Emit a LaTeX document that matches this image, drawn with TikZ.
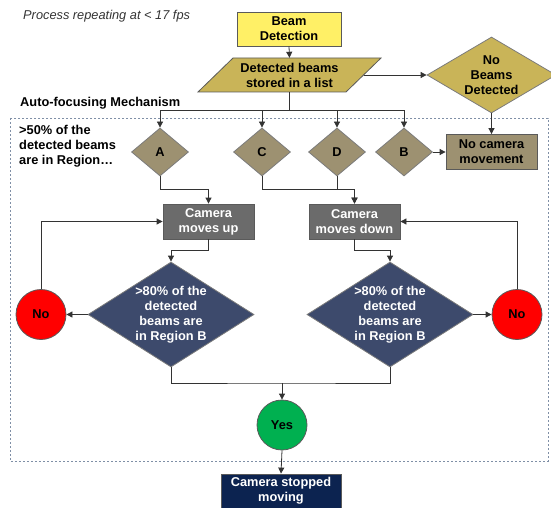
\documentclass[tikz,border=0pt]{standalone}
\usepackage{fontspec}
\setmainfont{Liberation Sans}
\usetikzlibrary{shapes.geometric,arrows.meta,calc}
\definecolor{ylw}{HTML}{FFF066}
\definecolor{khaki}{HTML}{C9B458}
\definecolor{taupe}{HTML}{9D9171}
\definecolor{grayfill}{HTML}{6B6B6B}
\definecolor{slate}{HTML}{3D4A6C}
\definecolor{redc}{HTML}{FF0000}
\definecolor{greenc}{HTML}{00B050}
\definecolor{navy}{HTML}{0C2350}
\definecolor{edge}{HTML}{5A5A5A}
\definecolor{dashc}{HTML}{7F8FA6}
\definecolor{linec}{HTML}{333333}
\begin{document}
\begin{tikzpicture}[x=1pt,y=-1pt,
  every node/.style={font=\fontsize{12.8}{15}\selectfont\bfseries, align=center, inner sep=0pt},
  box/.style={draw=edge, line width=0.8pt, rectangle},
  dia/.style={draw=edge!80, line width=0.8pt, diamond},
  circ/.style={draw=edge, line width=0.8pt, circle, minimum size=50pt},
  conn/.style={draw=linec, line width=0.8pt},
  arr/.style={conn, -{Triangle[length=6pt,width=6pt]}}]
\useasboundingbox (0,0) rectangle (551,508);
% dashed region
\draw[dashc, line width=0.8pt, dash pattern=on 2pt off 2pt] (10,118) rectangle (548,461);
% texts
\node[anchor=west, font=\fontsize{12.8}{15}\selectfont\itshape, text=linec] (title) at (23,16) {Process repeating at < 17 fps};
\node[anchor=west] (auto) at (20,103) {Auto-focusing Mechanism};
\node[anchor=west, align=left] (gt50) at (19,146) {>50\% of the\\detected beams\\are in Region\dots};
% top
\node[box, fill=ylw, minimum width=104pt, minimum height=34pt] (beam) at (289,29) {Beam\\Detection};
\coordinate (lc) at (289.5,75);
\fill[khaki, draw=edge, line width=0.8pt] ($(lc)+(-91.5,17)$) -- ($(lc)+(-56.5,-17)$) -- ($(lc)+(91.5,-17)$) -- ($(lc)+(56.5,17)$) -- cycle;
\node[minimum width=148pt, minimum height=34pt] (list) at (lc) {Detected beams\\stored in a list};
\node[dia, fill=khaki, minimum width=129pt, minimum height=76pt, aspect=1.7] (nobeams) at (491.5,75) {No\\Beams\\Detected};
\node[box, fill=taupe, minimum width=91pt, minimum height=35pt] (nocam) at (491.5,152) {No camera\\movement};
% region diamonds
\node[dia, fill=taupe, minimum width=57pt, minimum height=48pt] (A) at (160,152) {A};
\node[dia, fill=taupe, minimum width=57pt, minimum height=48pt] (C) at (262,152) {C};
\node[dia, fill=taupe, minimum width=57pt, minimum height=48pt] (D) at (337,152) {D};
\node[dia, fill=taupe, minimum width=57pt, minimum height=48pt] (B) at (404,152) {B};
% camera boxes
\node[box, fill=grayfill, text=white, minimum width=91pt, minimum height=35pt] (up) at (208.5,221.5) {Camera\\moves up};
\node[box, fill=grayfill, text=white, minimum width=91pt, minimum height=35pt] (down) at (354.5,221.5) {Camera\\moves down};
% big diamonds
\node[dia, fill=slate, text=white, minimum width=166pt, minimum height=105pt, aspect=1.58] (dL) at (171,314.5) {>80\% of the\\detected\\beams are\\in Region B};
\node[dia, fill=slate, text=white, minimum width=166pt, minimum height=105pt, aspect=1.58] (dR) at (390,314.5) {>80\% of the\\detected\\beams are\\in Region B};
% circles
\node[circ, fill=redc] (noL) at (41,314.5) {No};
\node[circ, fill=redc] (noR) at (517,314.5) {No};
\node[circ, fill=greenc] (yes) at (282,425) {Yes};
\node[box, fill=navy, text=white, minimum width=120pt, minimum height=34pt] (stop) at (281,491) {Camera stopped\\moving};
% connectors
\draw[arr] (beam.south) -- (list.north);
\draw[arr] (list.east) -- (nobeams.west);
\draw[arr] (nobeams.south) -- (nocam.north);
\coordinate (bus) at (289.5,110);
\draw[conn] (list.south) -- (bus);
\draw[arr] (bus) -| (A.north);
\draw[arr] (bus) -| (C.north);
\draw[arr] (bus) -| (D.north);
\draw[arr] (bus) -| (B.north);
\draw[arr] (B.east) -- (nocam.west);
\draw[arr] (A.south) -- ++(0,13) -| (up.north);
\draw[arr] (C.south) -- ++(0,13) -| (down.north);
\draw[arr] (D.south) -- ++(0,13) -| (down.north);
\draw[arr] (up.south) -- ++(0,11) -| (dL.north);
\draw[arr] (down.south) -- ++(0,11) -| (dR.north);
\draw[arr] (dL.west) -- (noL.east);
\draw[arr] (dR.east) -- (noR.west);
\draw[arr] (noL.north) |- (up.west);
\draw[arr] (noR.north) |- (down.east);
\coordinate (merge) at (282,383);
\draw[conn] (dL.south) |- (merge) -| (dR.south);
\draw[arr] (merge) -- (yes.north);
\draw[arr] (yes.south) -- (stop.north);
\end{tikzpicture}
\end{document}
